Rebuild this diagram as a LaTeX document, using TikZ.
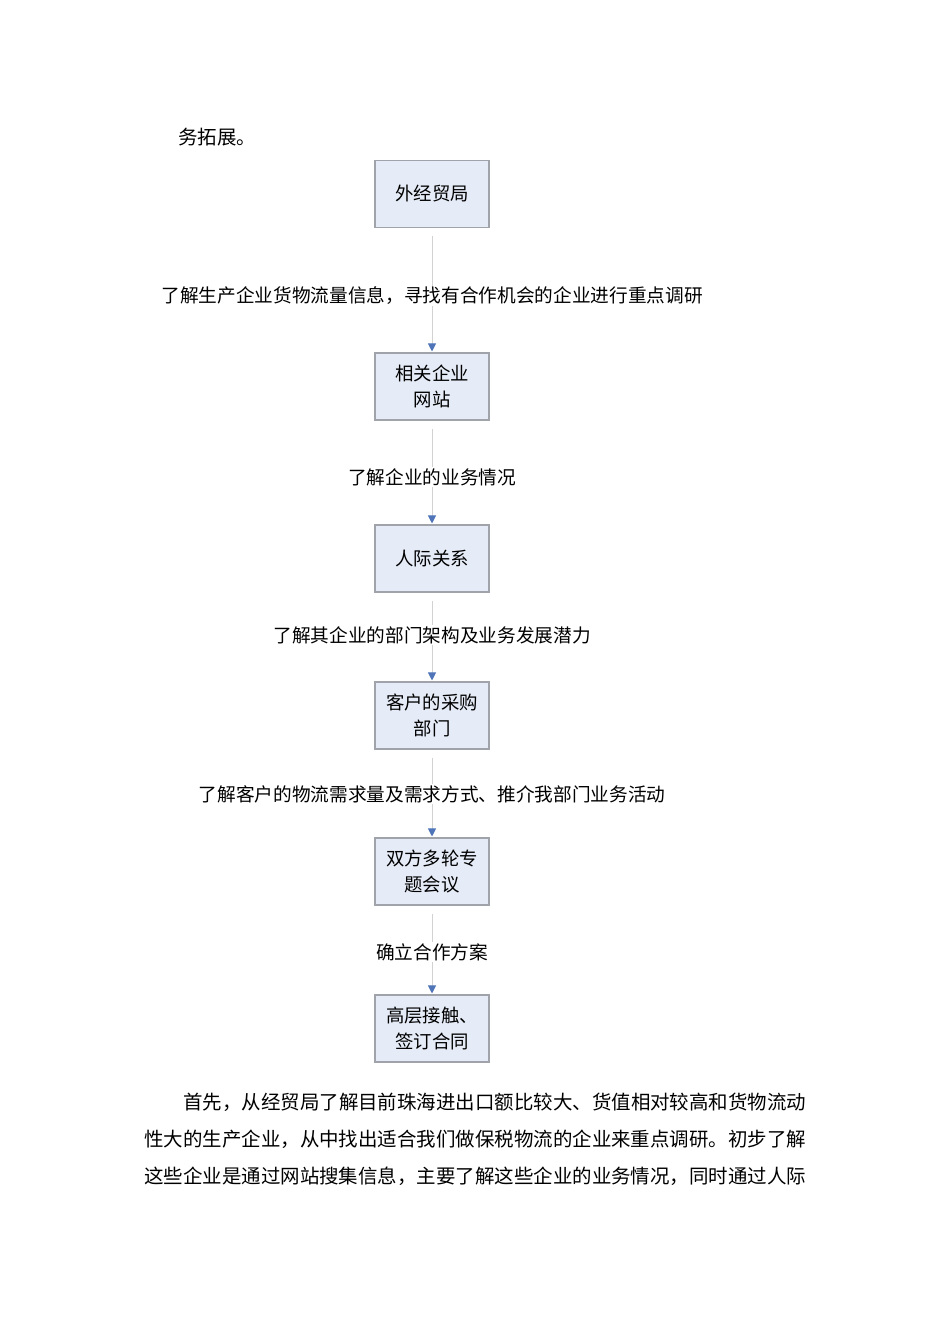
\documentclass[tikz,border=0pt]{standalone}
\usepackage{fontspec}
\newfontfamily\cjk{Noto Sans CJK SC}
\usetikzlibrary{arrows.meta}
\definecolor{boxfill}{HTML}{E6ECF7}
\definecolor{boxdraw}{HTML}{A0A4AA}
\definecolor{arr}{HTML}{4F74B8}
\begin{document}
\begin{tikzpicture}[x=0.75pt,y=-0.75pt,
  stepbox/.style={draw=boxdraw,fill=boxfill,line width=0.8pt,minimum width=114*0.75pt,minimum height=67*0.75pt,align=center,inner sep=0pt,font=\cjk\fontsize{13.8pt}{19pt}\selectfont},
  lab/.style={fill=white,inner sep=1pt,font=\cjk\fontsize{14pt}{17pt}\selectfont},
  para/.style={anchor=west,inner sep=0pt,font=\cjk\fontsize{14.6pt}{17pt}\selectfont},
  conn/.style={draw=gray!35,line width=0.7pt,-{Triangle[length=6pt,width=6pt,fill=arr,color=arr]}}]
\useasboundingbox (0,0) rectangle (950,1344);
\node[para] (t0) at (178,137) {务拓展。};
\node[stepbox] (b1) at (432,194) {外经贸局};
\node[stepbox] (b2) at (432,386.5) {相关企业\\网站};
\node[stepbox] (b3) at (432,558.5) {人际关系};
\node[stepbox] (b4) at (432,715.5) {客户的采购\\部门};
\node[stepbox] (b5) at (432,871.5) {双方多轮专\\题会议};
\node[stepbox] (b6) at (432,1028.5) {高层接触、\\签订合同};
\foreach \a/\b in {b1/b2,b2/b3,b3/b4,b4/b5,b5/b6}
  \draw[conn] ([yshift=-8*0.75pt]\a.south) -- ([yshift=1*0.75pt]\b.north);
\node[lab] (l1) at (432,296) {了解生产企业货物流量信息，寻找有合作机会的企业进行重点调研};
\node[lab] (l2) at (432,477) {了解企业的业务情况};
\node[lab] (l3) at (432,635) {了解其企业的部门架构及业务发展潜力};
\node[lab] (l4) at (432,794) {了解客户的物流需求量及需求方式、推介我部门业务活动};
\node[lab] (l5) at (432,952) {确立合作方案};
\node[para] (p1) at (183,1102) {首先，从经贸局了解目前珠海进出口额比较大、货值相对较高和货物流动};
\node[para] (p2) at (144,1139) {性大的生产企业，从中找出适合我们做保税物流的企业来重点调研。初步了解};
\node[para] (p3) at (144,1176) {这些企业是通过网站搜集信息，主要了解这些企业的业务情况，同时通过人际};
\end{tikzpicture}
\end{document}
